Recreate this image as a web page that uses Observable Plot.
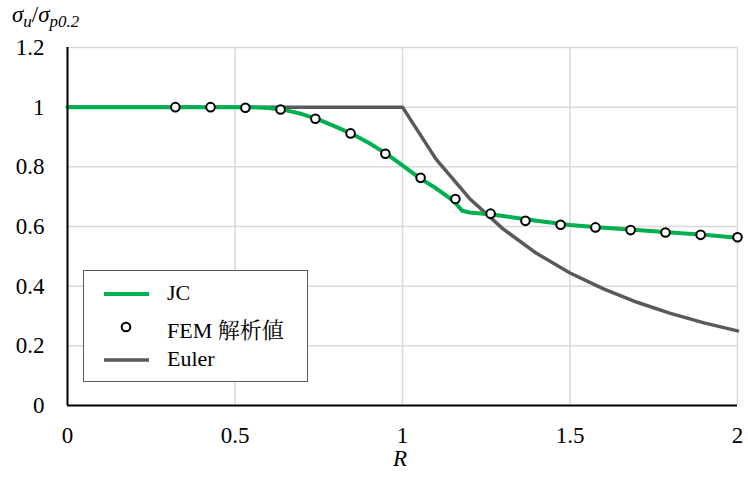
<!DOCTYPE html>
<html>
<head>
<meta charset="utf-8">
<script src="https://cdn.jsdelivr.net/npm/d3@7"></script>
<script src="https://cdn.jsdelivr.net/npm/@observablehq/plot@0.6"></script>
<style>
  html, body { margin: 0; padding: 0; background: #fff; }
  #wrap { position: relative; width: 748px; height: 481px; color: #000; font-family: 'Liberation Serif', 'Noto Serif CJK JP', serif; }
  #ytitle { position: absolute; left: 12px; top: 2px; font-size: 23px; white-space: nowrap; }
  #ytitle sub { font-size: 17px; vertical-align: -5px; }
  #xtitle { position: absolute; left: 393px; top: 446px; font-size: 23px; font-style: italic; }
  #legend { position: absolute; left: 83px; top: 270px; width: 225px; height: 112px; border: 1px solid #595959; background: #fff; box-sizing: border-box; }
  .row { position: absolute; left: 0; height: 30px; width: 100%; }
  .row span { position: absolute; left: 83px; top: 1px; font-size: 22px; white-space: nowrap; }
  .row svg { position: absolute; left: 0; top: 0; }
</style>
</head>
<body>
<div id="wrap">
  <div id="chart"></div>
  <div id="ytitle"><i>σ<sub>u</sub></i>/<i>σ<sub><i>p</i>0.2</sub></i></div>
  <div id="xtitle">R</div>
  <div id="legend"></div>
</div>
<script>
// JC design curve
const jcR = [0, 0.1, 0.2, 0.3, 0.4, 0.5, 0.55, 0.6, 0.65, 0.7, 0.75, 0.8, 0.85, 0.9, 0.95, 1.0, 1.05, 1.1, 1.15, 1.178, 1.2, 1.26, 1.3, 1.4, 1.5, 1.6, 1.7, 1.8, 1.9, 2.0];
const jcVal = [1, 1, 1, 1, 1, 1, 1, 0.997, 0.99, 0.977, 0.958, 0.935, 0.91, 0.88, 0.845, 0.805, 0.763, 0.728, 0.688, 0.653, 0.647, 0.641, 0.635, 0.619, 0.605, 0.596, 0.588, 0.580, 0.572, 0.562];

// FEM analysis values
const femR = [0.322, 0.427, 0.531, 0.636, 0.740, 0.845, 0.949, 1.054, 1.158, 1.263, 1.367, 1.472, 1.576, 1.681, 1.785, 1.890, 2.0];
const femVal = [1.0, 1.0, 0.998, 0.992, 0.961, 0.912, 0.844, 0.763, 0.692, 0.643, 0.619, 0.606, 0.597, 0.588, 0.580, 0.572, 0.564];

// Euler curve
const eulerR = [0, 1.0, 1.1, 1.2, 1.3, 1.4, 1.5, 1.6, 1.7, 1.8, 1.9, 2.0];
const eulerVal = [1, 1, 0.826, 0.694, 0.592, 0.510, 0.444, 0.391, 0.346, 0.309, 0.277, 0.25];

const xTicks = [0, 0.5, 1, 1.5, 2];
const xTickLabels = ["0", "0.5", "1", "1.5", "2"];
const yTicks = [0, 0.2, 0.4, 0.6, 0.8, 1.0, 1.2];
const yTickLabels = ["0", "0.2", "0.4", "0.6", "0.8", "1", "1.2"];

const seriesNames = ["JC", "FEM 解析値", "Euler"];
const colors = { green: "#00B050", gray: "#595959" };

const jc = jcR.map((r, i) => ({ r, v: jcVal[i] }));
const fem = femR.map((r, i) => ({ r, v: femVal[i] }));
const euler = eulerR.map((r, i) => ({ r, v: eulerVal[i] }));

const chart = Plot.plot({
  width: 748,
  height: 481,
  marginLeft: 67,
  marginRight: 11,
  marginTop: 47,
  marginBottom: 76,
  style: { fontFamily: "'Liberation Serif', serif", fontSize: "23px", background: "#fff", color: "#000", overflow: "visible" },
  x: { domain: [0, 2], label: null },
  y: { domain: [0, 1.2], label: null },
  marks: [
    Plot.gridX(xTicks, { stroke: "#D9D9D9", strokeOpacity: 1, strokeWidth: 1.5 }),
    Plot.gridY(yTicks, { stroke: "#D9D9D9", strokeOpacity: 1, strokeWidth: 1.5 }),
    Plot.line(euler, { x: "r", y: "v", stroke: colors.gray, strokeWidth: 3.5, strokeLinejoin: "round" }),
    Plot.line(jc, { x: "r", y: "v", stroke: colors.green, strokeWidth: 4, strokeLinejoin: "round" }),
    Plot.dot(fem, { x: "r", y: "v", r: 4.3, fill: "#fff", stroke: "#000", strokeWidth: 2 }),
    Plot.ruleY([0], { stroke: "#000", strokeWidth: 2 }),
    Plot.ruleX([0], { stroke: "#000", strokeWidth: 2 }),
    Plot.axisX(xTicks, { tickSize: 0, tickPadding: 21, tickFormat: (d, i) => xTickLabels[i], fontSize: 23, label: null }),
    Plot.axisY(yTicks, { tickSize: 0, tickPadding: 23, tickFormat: (d, i) => yTickLabels[i], fontSize: 23, label: null })
  ]
});
document.getElementById("chart").appendChild(chart);

// legend
const legend = document.getElementById("legend");
const rows = [
  { name: seriesNames[0], top: 8, swatch: `<line x1="20" x2="65" y1="15" y2="15" stroke="${colors.green}" stroke-width="4"/>` },
  { name: seriesNames[1], top: 41, swatch: `<circle cx="42" cy="15" r="4.3" fill="#fff" stroke="#000" stroke-width="2"/>` },
  { name: seriesNames[2], top: 74, swatch: `<line x1="20" x2="65" y1="15" y2="15" stroke="${colors.gray}" stroke-width="3.5"/>` }
];
for (const r of rows) {
  const d = document.createElement("div");
  d.className = "row";
  d.style.top = r.top + "px";
  d.innerHTML = `<svg width="80" height="30">${r.swatch}</svg><span>${r.name}</span>`;
  legend.appendChild(d);
}
</script>
</body>
</html>
